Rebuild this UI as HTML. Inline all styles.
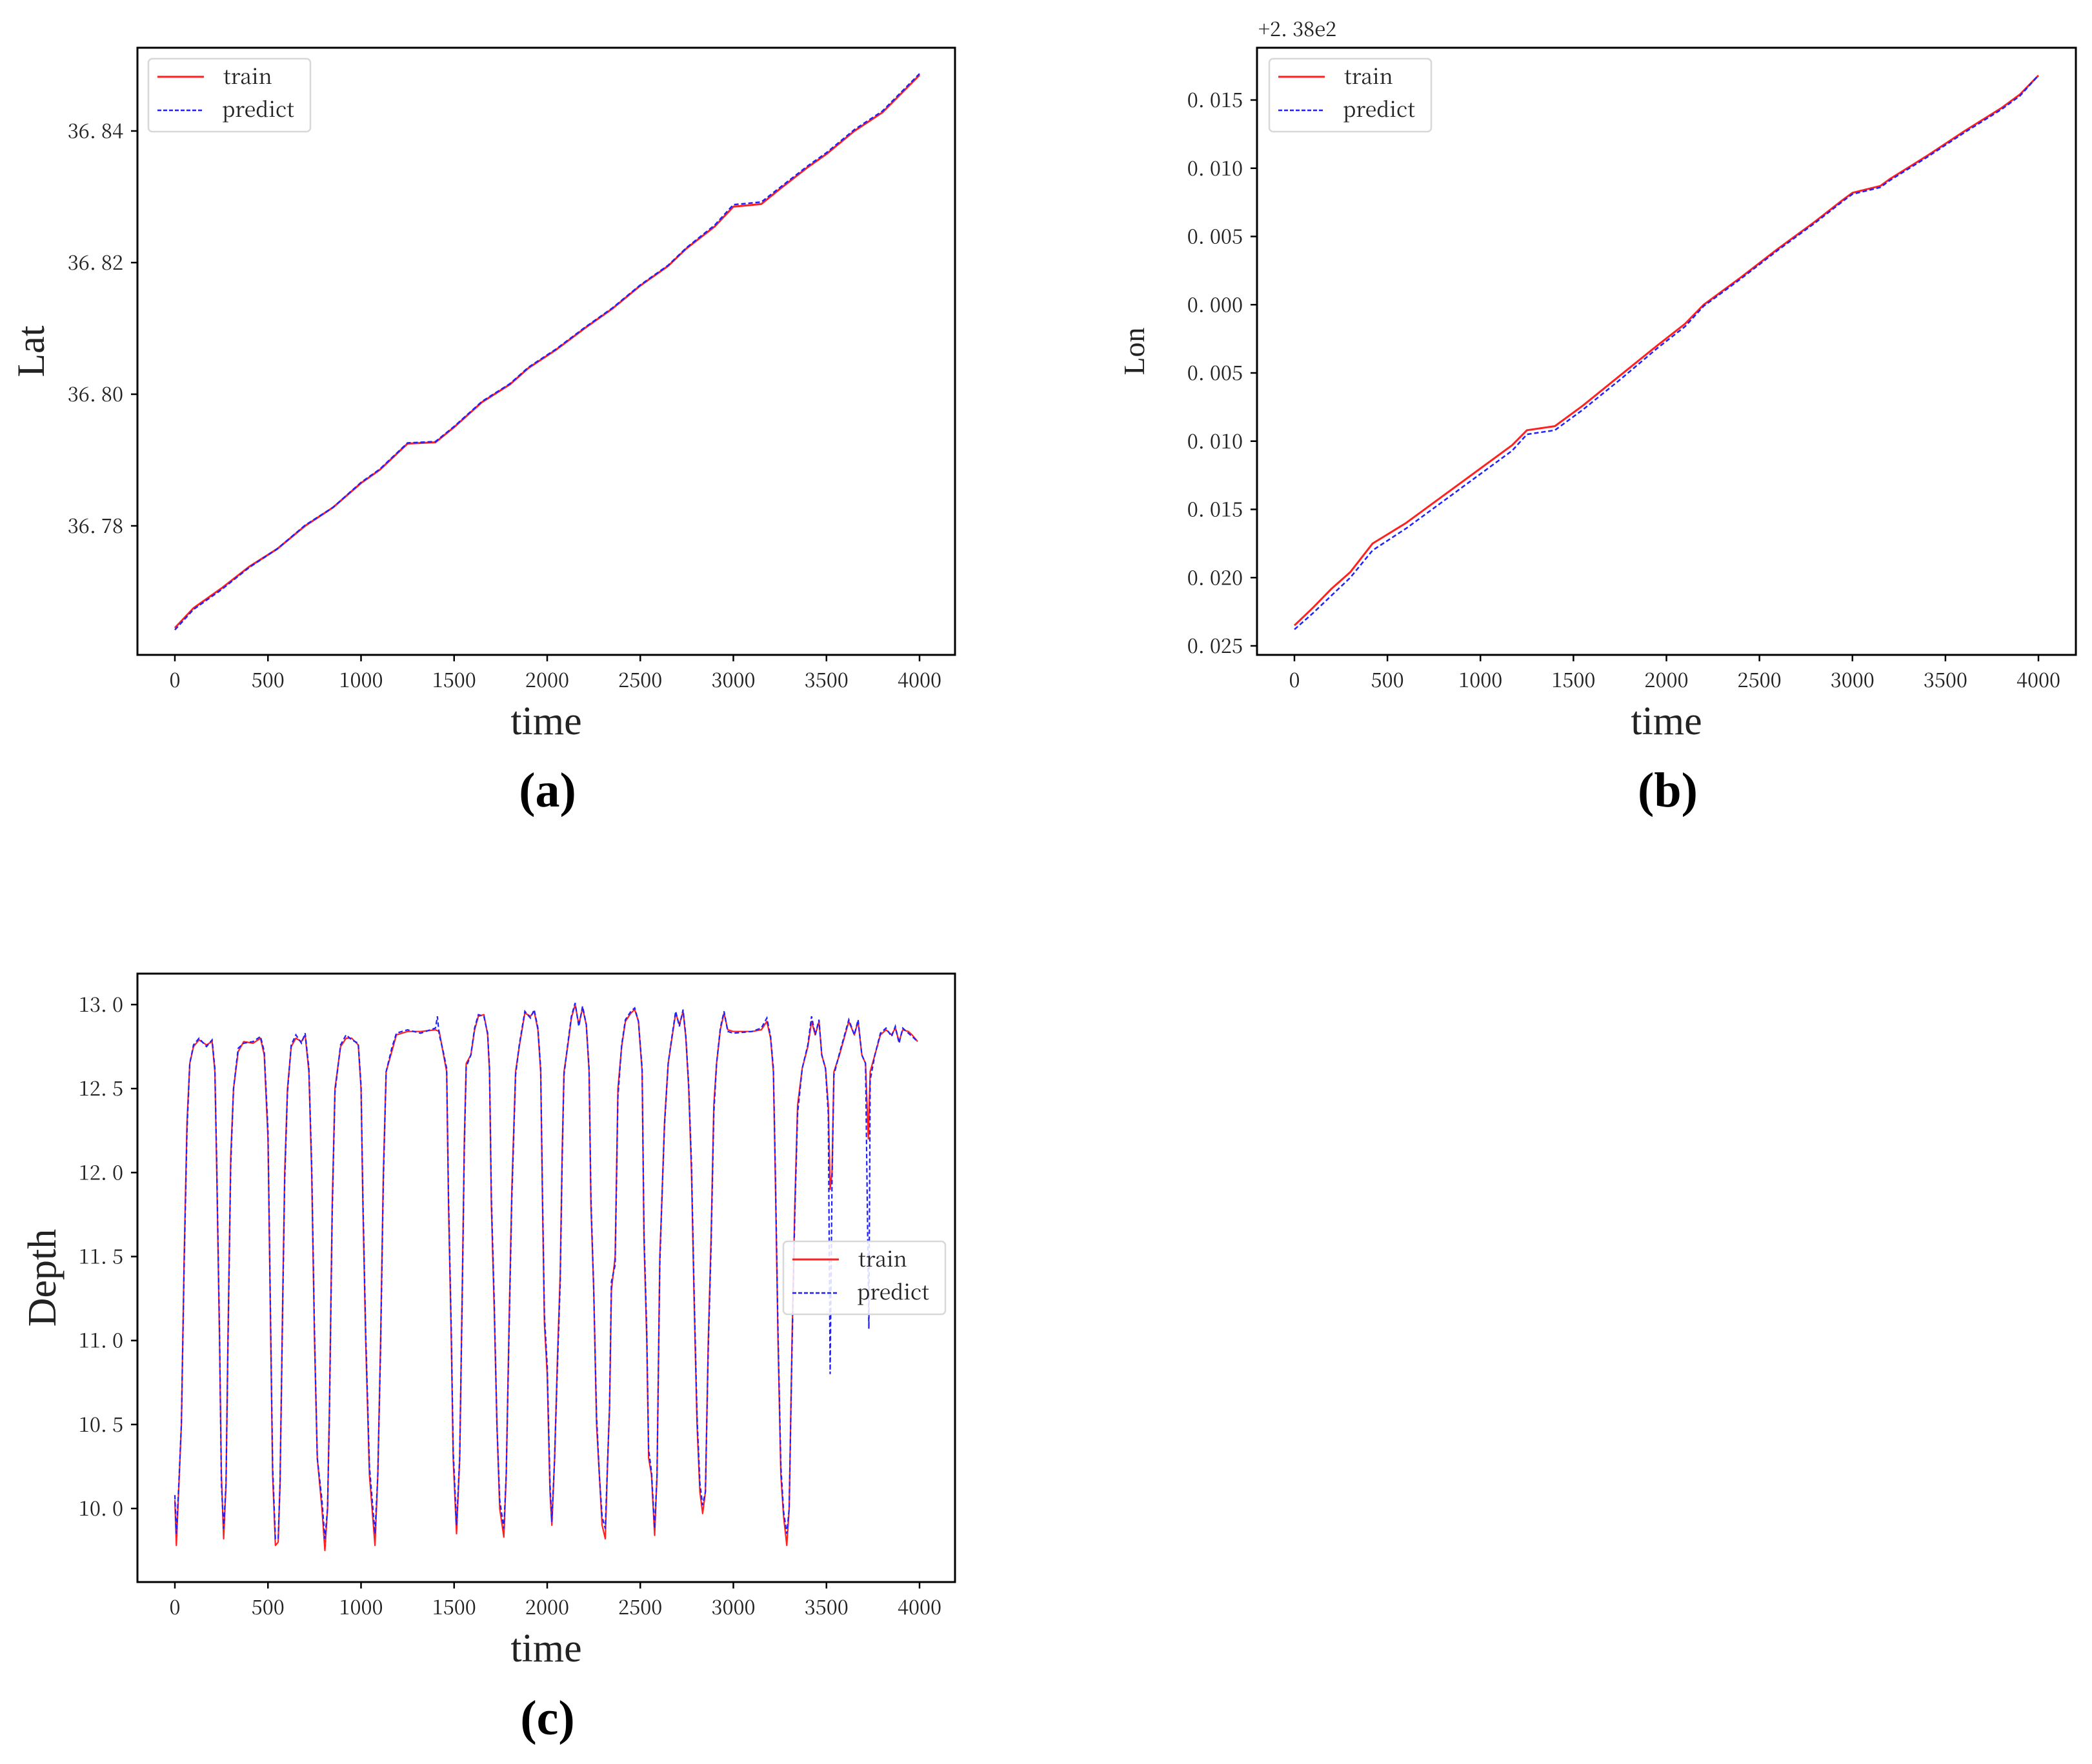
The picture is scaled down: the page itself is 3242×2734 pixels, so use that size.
<!DOCTYPE html>
<html><head><meta charset="utf-8"><style>
html,body{margin:0;padding:0;background:#fff;}
svg{display:block;}
text{font-family:"Liberation Serif","Noto Serif CJK SC",serif;fill:#222;}
.tick{font-family:"Noto Serif CJK SC","Liberation Serif",serif;}
</style></head><body>
<svg id="fig" width="3242" height="2734" viewBox="0 0 3242 2734" xmlns="http://www.w3.org/2000/svg"></svg>
<script>
const timeTicks=[0,500,1000,1500,2000,2500,3000,3500,4000];
const latTicks=[36.78,36.80,36.82,36.84];
const latTickLabels=["36. 78","36. 80","36. 82","36. 84"];
const latTrain=[[0,36.7645],[100,36.7675],[250,36.7705],[400,36.7738],[550,36.7765],[700,36.7800],[850,36.7828],[1000,36.7865],[1100,36.7885],[1250,36.7925],[1400,36.7927],[1500,36.7950],[1650,36.7988],[1800,36.8015],[1900,36.8040],[2050,36.8068],[2200,36.8100],[2350,36.8130],[2500,36.8165],[2650,36.8195],[2750,36.8222],[2900,36.8255],[3000,36.8285],[3150,36.8289],[3250,36.8312],[3400,36.8345],[3500,36.8365],[3650,36.8400],[3800,36.8428],[4000,36.8485]];
const latPredict=[[0,36.7642],[100,36.7673],[250,36.7703],[400,36.7737],[550,36.7765],[700,36.7801],[850,36.7828],[1000,36.7866],[1100,36.7886],[1250,36.7926],[1400,36.7928],[1500,36.7951],[1650,36.7989],[1800,36.8016],[1900,36.8041],[2050,36.8069],[2200,36.8101],[2350,36.8131],[2500,36.8166],[2650,36.8196],[2750,36.8223],[2900,36.8257],[3000,36.8288],[3150,36.8292],[3250,36.8314],[3400,36.8347],[3500,36.8367],[3650,36.8402],[3800,36.8430],[4000,36.8487]];
const lonTicks=[0.015,0.010,0.005,0.000,-0.005,-0.010,-0.015,-0.020,-0.025];
const lonTickLabels=["0. 015","0. 010","0. 005","0. 000","0. 005","0. 010","0. 015","0. 020","0. 025"];
const lonTrain=[[0,-0.0235],[100,-0.0222],[200,-0.0208],[300,-0.0196],[420,-0.0175],[600,-0.0160],[800,-0.0140],[1000,-0.0120],[1170,-0.0103],[1250,-0.0092],[1400,-0.0089],[1550,-0.0074],[1750,-0.0052],[1950,-0.0030],[2100,-0.0014],[2200,0.0000],[2400,0.0020],[2600,0.0041],[2800,0.0061],[2950,0.0077],[3000,0.0082],[3150,0.0087],[3200,0.0092],[3400,0.0109],[3600,0.0127],[3800,0.0144],[3900,0.0154],[4000,0.0168]];
const lonPredict=[[0,-0.0238],[100,-0.0226],[200,-0.0213],[300,-0.0200],[420,-0.0180],[600,-0.0164],[800,-0.0144],[1000,-0.0124],[1170,-0.0107],[1250,-0.0095],[1400,-0.0092],[1550,-0.0077],[1750,-0.0055],[1950,-0.0032],[2100,-0.0016],[2200,-0.0001],[2400,0.0019],[2600,0.0040],[2800,0.0060],[2950,0.0076],[3000,0.0081],[3150,0.0086],[3200,0.0091],[3400,0.0108],[3600,0.0126],[3800,0.0143],[3900,0.0153],[4000,0.0168]];
const depthTicks=[10.0,10.5,11.0,11.5,12.0,12.5,13.0];
const depthTickLabels=["10. 0","10. 5","11. 0","11. 5","12. 0","12. 5","13. 0"];
const depthTrain=[[0,10.05],[8,9.78],[20,10.1],[35,10.5],[50,11.5],[65,12.3],[80,12.65],[100,12.75],[130,12.79],[170,12.76],[200,12.78],[215,12.6],[225,12.0],[240,11.0],[250,10.2],[262,9.82],[275,10.15],[285,11.0],[300,12.1],[315,12.5],[340,12.72],[370,12.78],[420,12.77],[460,12.8],[480,12.7],[500,12.2],[515,11.0],[525,10.2],[540,9.78],[555,9.8],[565,10.15],[580,11.3],[590,12.0],[605,12.5],[625,12.75],[650,12.8],[680,12.78],[700,12.82],[720,12.6],[735,12.0],[750,11.0],[765,10.3],[790,10.0],[806,9.75],[820,10.0],[830,10.6],[845,11.8],[860,12.5],[890,12.75],[920,12.8],[950,12.8],[985,12.76],[1000,12.5],[1010,11.8],[1025,11.0],[1045,10.2],[1075,9.78],[1090,10.2],[1105,11.0],[1120,12.0],[1135,12.6],[1165,12.72],[1190,12.82],[1250,12.84],[1320,12.84],[1400,12.85],[1420,12.84],[1440,12.72],[1460,12.6],[1470,11.8],[1485,11.0],[1495,10.3],[1513,9.85],[1530,10.3],[1545,11.4],[1555,12.2],[1565,12.65],[1590,12.7],[1610,12.85],[1630,12.93],[1660,12.94],[1680,12.82],[1690,12.6],[1700,11.8],[1715,11.2],[1730,10.5],[1745,10.0],[1767,9.83],[1780,10.2],[1795,11.1],[1810,11.9],[1830,12.6],[1850,12.75],[1880,12.95],[1910,12.93],[1930,12.96],[1950,12.85],[1965,12.6],[1975,11.8],[1985,11.1],[2000,10.8],[2015,10.1],[2025,9.9],[2040,10.3],[2055,10.9],[2070,11.4],[2080,12.1],[2090,12.6],[2110,12.75],[2130,12.92],[2150,13.0],[2170,12.88],[2190,12.98],[2210,12.88],[2225,12.6],[2235,11.8],[2250,11.3],[2265,10.5],[2280,10.2],[2295,9.9],[2312,9.82],[2325,10.3],[2335,10.6],[2345,11.3],[2365,11.5],[2380,12.5],[2400,12.75],[2420,12.9],[2450,12.95],[2470,12.97],[2490,12.9],[2510,12.6],[2520,11.6],[2535,11.0],[2545,10.3],[2560,10.2],[2577,9.84],[2590,10.2],[2605,11.5],[2615,11.8],[2630,12.3],[2650,12.65],[2670,12.8],[2690,12.95],[2710,12.88],[2730,12.96],[2745,12.8],[2760,12.5],[2775,12.0],[2790,11.2],[2805,10.5],[2820,10.1],[2835,9.97],[2850,10.1],[2865,11.0],[2880,11.6],[2895,12.4],[2910,12.65],[2930,12.85],[2950,12.95],[2970,12.85],[3000,12.84],[3100,12.84],[3150,12.85],[3180,12.9],[3200,12.8],[3215,12.6],[3225,12.0],[3240,11.0],[3255,10.2],[3270,9.95],[3287,9.78],[3300,10.0],[3315,11.0],[3330,11.8],[3345,12.4],[3370,12.62],[3400,12.75],[3420,12.9],[3440,12.82],[3460,12.9],[3475,12.7],[3495,12.62],[3510,12.4],[3520,11.9],[3530,12.0],[3540,12.6],[3570,12.7],[3600,12.82],[3620,12.9],[3650,12.82],[3670,12.9],[3690,12.7],[3710,12.65],[3725,12.2],[3735,12.6],[3760,12.7],[3790,12.82],[3820,12.85],[3850,12.82],[3870,12.86],[3890,12.78],[3910,12.85],[3940,12.84],[3960,12.82],[3990,12.78]];
const depthPredict=[[0,10.08],[8,9.85],[20,10.12],[35,10.5],[50,11.45],[65,12.25],[80,12.65],[100,12.76],[130,12.8],[170,12.75],[200,12.79],[215,12.62],[225,12.05],[240,11.05],[250,10.15],[262,9.88],[275,10.15],[285,10.95],[300,12.05],[315,12.5],[340,12.74],[370,12.77],[420,12.78],[460,12.81],[480,12.72],[500,12.25],[515,11.05],[525,10.25],[540,9.82],[555,9.82],[565,10.15],[580,11.25],[590,11.95],[605,12.48],[625,12.76],[650,12.82],[680,12.77],[700,12.83],[720,12.62],[735,12.05],[750,11.05],[765,10.3],[790,10.05],[806,9.82],[820,10.0],[830,10.55],[845,11.75],[860,12.48],[890,12.76],[920,12.82],[950,12.79],[985,12.77],[1000,12.52],[1010,11.85],[1025,11.05],[1045,10.25],[1075,9.85],[1090,10.2],[1105,10.95],[1120,11.95],[1135,12.6],[1165,12.74],[1190,12.83],[1250,12.85],[1320,12.83],[1400,12.86],[1410,12.93],[1420,12.82],[1440,12.73],[1460,12.62],[1470,11.85],[1485,11.05],[1495,10.35],[1513,9.9],[1530,10.3],[1545,11.35],[1555,12.15],[1565,12.63],[1590,12.7],[1610,12.86],[1630,12.94],[1660,12.93],[1680,12.83],[1690,12.62],[1700,11.85],[1715,11.25],[1730,10.5],[1745,10.05],[1767,9.88],[1780,10.2],[1795,11.05],[1810,11.85],[1830,12.58],[1850,12.76],[1880,12.96],[1910,12.92],[1930,12.97],[1950,12.86],[1965,12.62],[1975,11.85],[1985,11.15],[2000,10.85],[2015,10.15],[2025,9.92],[2040,10.3],[2055,10.85],[2070,11.35],[2080,12.05],[2090,12.58],[2110,12.76],[2130,12.93],[2150,13.01],[2170,12.87],[2190,12.99],[2210,12.88],[2225,12.62],[2235,11.85],[2250,11.3],[2265,10.55],[2280,10.2],[2295,9.95],[2312,9.88],[2325,10.3],[2335,10.6],[2345,11.35],[2365,11.45],[2380,12.45],[2400,12.76],[2420,12.91],[2450,12.96],[2470,12.98],[2490,12.9],[2510,12.62],[2520,11.65],[2535,11.05],[2545,10.35],[2560,10.22],[2577,9.88],[2590,10.2],[2605,11.45],[2615,11.8],[2630,12.28],[2650,12.65],[2670,12.81],[2690,12.96],[2710,12.87],[2730,12.97],[2745,12.81],[2760,12.52],[2775,12.05],[2790,11.25],[2805,10.55],[2820,10.15],[2835,10.02],[2850,10.1],[2865,10.95],[2880,11.55],[2895,12.35],[2910,12.65],[2930,12.86],[2950,12.96],[2970,12.84],[3000,12.83],[3100,12.84],[3150,12.86],[3180,12.92],[3200,12.81],[3215,12.62],[3225,12.05],[3240,11.05],[3255,10.25],[3270,9.98],[3287,9.85],[3300,10.0],[3315,10.95],[3330,11.75],[3345,12.35],[3370,12.62],[3400,12.76],[3420,12.93],[3440,12.82],[3460,12.91],[3475,12.7],[3495,12.62],[3510,12.35],[3520,10.8],[3530,11.95],[3540,12.58],[3570,12.71],[3600,12.83],[3620,12.91],[3650,12.82],[3670,12.91],[3690,12.7],[3710,12.65],[3728,11.07],[3735,12.55],[3760,12.7],[3790,12.83],[3820,12.86],[3850,12.81],[3870,12.87],[3890,12.77],[3910,12.86],[3940,12.83],[3960,12.81],[3990,12.78]];

const NS="http://www.w3.org/2000/svg";
const svg=document.getElementById('fig');
function mk(tag,attrs,parent){const e=document.createElementNS(NS,tag);for(const k in attrs)e.setAttribute(k,attrs[k]);(parent||svg).appendChild(e);return e;}
function txt(s,attrs,parent){const e=mk('text',attrs,parent);e.textContent=s;return e;}

function panel(cfg){
  const g=mk('g',{});
  
  
  const L=cfg.L,R=cfg.R,T=cfg.T,B=cfg.B;
  const xs=t=>cfg.x0+(t-0)*(cfg.x4000-cfg.x0)/4000;
  const ys=v=>cfg.ya+(v-cfg.va)*(cfg.yb-cfg.ya)/(cfg.vb-cfg.va);
  const pTrain=mk('path',{d:cfg.train.map((p,i)=>(i?'L':'M')+xs(p[0]).toFixed(1)+','+ys(p[1]).toFixed(1)).join(''),fill:'none',stroke:'#ff2020','stroke-width':cfg.lw||3,'stroke-linejoin':'round'},g);
  
  
  const pPred=mk('path',{d:cfg.pred.map((p,i)=>(i?'L':'M')+xs(p[0]).toFixed(1)+','+ys(p[1]).toFixed(1)).join(''),fill:'none',stroke:'#2020ff','stroke-width':cfg.lw||2.5,'stroke-dasharray':'7,4'},g);
  
  
  const fr=mk('rect',{x:L,y:T,width:R-L,height:B-T,fill:'none',stroke:'#000','stroke-width':3},g);
  
  
  timeTicks.forEach(t=>{
    const x=xs(t);
    mk('line',{x1:x,y1:B,x2:x,y2:B+10,stroke:'#000','stroke-width':2.5},g);
    const tl=txt(String(t),{x:x,y:B+50,'text-anchor':'middle','font-size':31,class:'tick'},g);
    
    
  });
  cfg.yt.forEach((v,i)=>{
    const y=ys(v);
    mk('line',{x1:L-10,y1:y,x2:L,y2:y,stroke:'#000','stroke-width':2.5},g);
    const tl=txt(cfg.ytl[i],{x:L-22,y:y+11,'text-anchor':'end','font-size':31,class:'tick'},g);
    
    
  });
  const xt=txt('time',{x:(L+R)/2,y:B+123,'text-anchor':'middle','font-size':62},g);
  
  
  const yt=txt(cfg.ylabel,{x:0,y:0,'text-anchor':'middle','font-size':cfg.yfs,transform:`translate(${cfg.ylx},${(T+B)/2}) rotate(-90)`},g);
  
  
  const cap=txt(cfg.cap,{x:(L+R)/2+2,y:cfg.capY,'text-anchor':'middle','font-size':76,'font-weight':'bold',style:'fill:#000'},g);
  
  
  const lg=mk('g',{},g);
  
  
  const lx=cfg.legX,ly=cfg.legY;
  mk('rect',{x:lx,y:ly,width:251,height:113,rx:6,fill:'#fff','fill-opacity':0.85,stroke:'#d8d8d8','stroke-width':2.5},lg);
  mk('line',{x1:lx+14,y1:ly+28,x2:lx+86,y2:ly+28,stroke:'#ff2020','stroke-width':3},lg);
  mk('line',{x1:lx+14,y1:ly+80,x2:lx+86,y2:ly+80,stroke:'#2020ff','stroke-width':2.5,'stroke-dasharray':'6,3'},lg);
  const e1=txt('train',{x:lx+116,y:ly+39,'font-size':32,class:'tick'},lg);
  
  
  const e2=txt('predict',{x:lx+114,y:ly+90,'font-size':32,class:'tick'},lg);
  
  
  return g;
}

panel({name:'panel-a-lat',L:213,R:1480,T:74,B:1015,x0:271,x4000:1425,ya:815,va:36.78,yb:203,vb:36.84,yt:latTicks,ytl:latTickLabels,train:latTrain,pred:latPredict,ylabel:'Lat',ylx:68,yfs:60,cap:'(a)',capY:1250,legX:230,legY:91});
panel({name:'panel-b-lon',L:1948,R:3217,T:74,B:1015,x0:2006,x4000:3159,ya:155,va:0.015,yb:1001,vb:-0.025,yt:lonTicks,ytl:lonTickLabels,train:lonTrain,pred:lonPredict,ylabel:'Lon',ylx:1773,yfs:46,cap:'(b)',capY:1250,legX:1967,legY:91});
panel({name:'panel-c-depth',L:213,R:1480,T:1509,B:2452,x0:271,x4000:1425,ya:2338,va:10.0,yb:1557,vb:13.0,yt:depthTicks,ytl:depthTickLabels,train:depthTrain,pred:depthPredict,ylabel:'Depth',ylx:86,yfs:62,cap:'(c)',capY:2688,legX:1214,legY:1924,lw:2.2});
const off=txt('+2. 38e2',{x:1950,y:56,'font-size':31,class:'tick'});


</script>
</body></html>
